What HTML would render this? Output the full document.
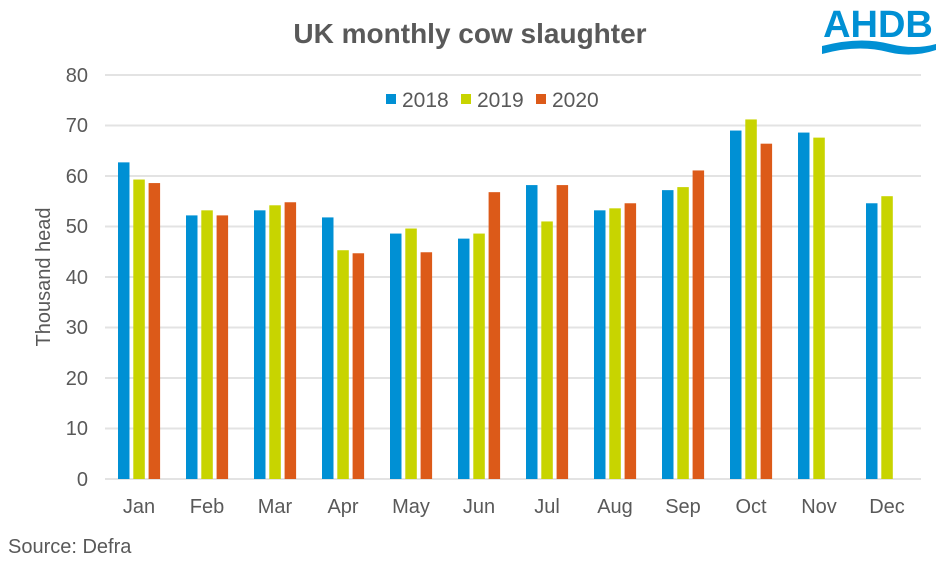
<!DOCTYPE html>
<html><head><meta charset="utf-8"><style>body{margin:0;background:#fff}svg{display:block}text{font-family:"Liberation Sans",Arial,sans-serif;fill:#595959}</style></head>
<body>
<svg width="940" height="562" viewBox="0 0 940 562" xmlns="http://www.w3.org/2000/svg">
<text x="470" y="43" text-anchor="middle" font-size="28" font-weight="bold">UK monthly cow slaughter</text>
<g fill="#0090d4">
<text x="878" y="37" text-anchor="middle" font-size="38" font-weight="bold" style="fill:#0090d4">AHDB</text>
<path d="M822 46 Q860 36 890 44 Q915 50 936 44 L936 50 Q912 58 888 52 Q858 44 822 54 Z"/>
</g>
<g stroke="#e3e3e3" stroke-width="2">
<line x1="105" x2="921" y1="75" y2="75"/><line x1="105" x2="921" y1="125.5" y2="125.5"/><line x1="105" x2="921" y1="176" y2="176"/><line x1="105" x2="921" y1="226.5" y2="226.5"/><line x1="105" x2="921" y1="277" y2="277"/><line x1="105" x2="921" y1="327.5" y2="327.5"/><line x1="105" x2="921" y1="378" y2="378"/><line x1="105" x2="921" y1="428.5" y2="428.5"/><line x1="105" x2="921" y1="479" y2="479"/>
</g>
<g font-size="20" text-anchor="end">
<text x="88" y="82">80</text><text x="88" y="132">70</text><text x="88" y="183">60</text><text x="88" y="233">50</text><text x="88" y="284">40</text><text x="88" y="334">30</text><text x="88" y="385">20</text><text x="88" y="435">10</text><text x="88" y="486">0</text>
</g>
<text transform="translate(50,277) rotate(-90)" text-anchor="middle" font-size="20">Thousand head</text>
<g id="bars"></g>
<g font-size="20" text-anchor="middle" id="labels"></g>
<rect x="386" y="94" width="10" height="10" fill="#0090d4"/><text x="402" y="107" font-size="21">2018</text>
<rect x="461" y="94" width="10" height="10" fill="#c8d400"/><text x="477" y="107" font-size="21">2019</text>
<rect x="536" y="94" width="10" height="10" fill="#dc5a19"/><text x="552" y="107" font-size="21">2020</text>
<text x="8" y="553" font-size="20">Source: Defra</text>
</svg>
<script>
var d=[[62.7,59.3,58.6],[52.2,53.2,52.2],[53.2,54.2,54.8],[51.8,45.3,44.7],[48.6,49.6,44.9],[47.6,48.6,56.8],[58.2,51,58.2],[53.2,53.6,54.6],[57.2,57.8,61.1],[69,71.2,66.4],[68.6,67.6,null],[54.6,56,null]];
var m=["Jan","Feb","Mar","Apr","May","Jun","Jul","Aug","Sep","Oct","Nov","Dec"];
var c=["#0090d4","#c8d400","#dc5a19"];var ns="http://www.w3.org/2000/svg";
var b=document.getElementById("bars"),l=document.getElementById("labels");
d.forEach(function(r,i){var x0=105+68*i;r.forEach(function(v,j){if(v==null)return;var e=document.createElementNS(ns,"rect");var h=v*5.05;e.setAttribute("x",x0+13+j*15.3);e.setAttribute("width",11.5);e.setAttribute("y",479-h);e.setAttribute("height",h);e.setAttribute("fill",c[j]);b.appendChild(e);});
var t=document.createElementNS(ns,"text");t.setAttribute("x",x0+34);t.setAttribute("y",513);t.textContent=m[i];l.appendChild(t);});
</script>
</body></html>
